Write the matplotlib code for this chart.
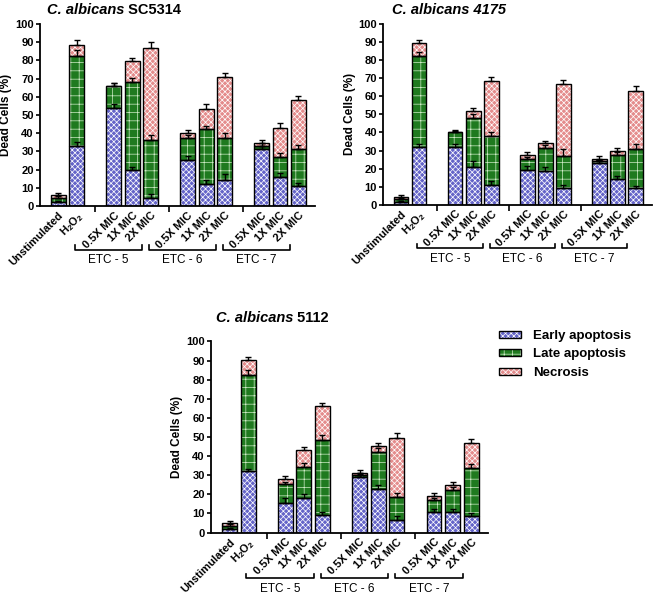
import matplotlib
matplotlib.use("Agg")
import matplotlib.pyplot as plt
import matplotlib.transforms as mtransforms
from matplotlib.patches import Patch
from matplotlib.legend_handler import HandlerTuple
import numpy as np

plt.rcParams['font.family'] = ['Liberation Sans', 'DejaVu Sans']
plt.rcParams['font.weight'] = 'bold'
plt.rcParams['mathtext.fontset'] = 'custom'
plt.rcParams['mathtext.rm'] = 'Liberation Sans:bold'
plt.rcParams['mathtext.default'] = 'rm'
plt.rcParams['hatch.linewidth'] = 0.5

labels = ['Unstimulated', r'H$_2$O$_2$',
          '0.5X MIC', '1X MIC', '2X MIC',
          '0.5X MIC', '1X MIC', '2X MIC',
          '0.5X MIC', '1X MIC', '2X MIC']
groups = ['ETC - 5', 'ETC - 6', 'ETC - 7']
positions = [0, 1, 3, 4, 5, 7, 8, 9, 11, 12, 13]

# C. albicans SC5314
sc_early = [2, 33, 54, 20, 4.5, 25.5, 12, 14.5, 31.5, 16, 11]
sc_late = [2.5, 49.5, 12, 48, 32, 12, 30, 23, 1.5, 11, 20.5]
sc_necro = [1.5, 6, 0, 11.5, 50.5, 2.5, 11, 33.5, 1.5, 16, 26.5]
sc_early_err = [0.5, 2, 2, 1.5, 2, 2, 2.5, 3, 1.5, 2, 1.5]
sc_late_err = [1, 3, 1.5, 2.5, 2.5, 1.5, 2, 2.5, 1.5, 2, 2]
sc_necro_err = [1, 2.5, 1.5, 2, 3, 1.5, 3, 2, 1.5, 2.5, 2.5]

# C. albicans 4175
ca_early = [1.5, 32, 32, 21, 11, 19, 18.5, 9, 23, 14, 9]
ca_late = [1.5, 50, 8, 27, 27, 6.5, 13, 18, 1, 13.5, 22]
ca_necro = [1.5, 7.5, 0.5, 4, 30.5, 2, 2.5, 39.5, 1.5, 2.5, 32]
ca_early_err = [0.5, 1.5, 1.5, 3, 2, 2.5, 2.5, 2, 1.5, 2, 1.5]
ca_late_err = [0.5, 2.5, 1, 2, 2, 1, 1.5, 4, 1, 1.5, 2.5]
ca_necro_err = [1, 1.5, 1, 1.5, 2, 1.5, 1.5, 2.5, 1.5, 1.5, 2.5]

# C. albicans 5112
cb_early = [2, 32, 15.5, 18, 9, 29, 23, 6.5, 11, 10.5, 8.5]
cb_late = [1.5, 50.5, 10, 16.5, 39.5, 1, 19, 12, 6, 12, 25.5]
cb_necro = [1.5, 8, 2.5, 8.5, 17.5, 1, 3.5, 31, 2, 2.5, 13]
cb_early_err = [0.5, 1, 2.5, 2, 1.5, 1.5, 2, 2, 1.5, 2, 1.5]
cb_late_err = [1, 2.5, 1, 2, 2.5, 1, 2, 2, 1, 1.5, 2]
cb_necro_err = [1, 1.5, 1.5, 2, 2, 1.5, 1.5, 2.5, 1.5, 1.5, 2]

# (facecolor, hatch colour, hatch)
styles = [('#6464c8', 'white', 'xxxxxx'),
          ('#1f7a1f', '#d0ecc8', '++'),
          ('#e48c8c', 'white', 'xxxxxx')]
legend_names = ['Early apoptosis', 'Late apoptosis', 'Necrosis']


def draw_panel(ax, segs, errs, fs=7.5):
    x = np.array(positions)
    bottom = np.zeros(len(x))
    for seg, err, (fc, hc, h) in zip(segs, errs, styles):
        seg = np.array(seg)
        ax.bar(x, seg, 0.8, bottom=bottom, color=fc, edgecolor=hc,
               hatch=h, linewidth=0, zorder=2)
        ax.bar(x, seg, 0.8, bottom=bottom, fill=False, edgecolor='black',
               linewidth=1, zorder=3)
        top = bottom + seg
        ax.errorbar(x, top, yerr=[np.zeros(len(x)), err], fmt='none',
                    ecolor='black', elinewidth=1, capsize=2, capthick=1,
                    zorder=4)
        bottom = top

    ax.set_xlim(-1.0, 13.9)
    ax.set_ylim(0, 100)
    ax.set_yticks(range(0, 101, 10))
    ax.set_xticks(positions)
    ax.set_xticklabels(labels, rotation=45, ha='right',
                       rotation_mode='anchor', fontsize=fs + 0.5,
                       fontweight='bold')
    ax.set_xticks([2, 6, 10], minor=True)
    ax.tick_params(axis='x', which='major', length=0, pad=3)
    ax.tick_params(axis='x', which='minor', length=4, width=1.2)
    ax.tick_params(axis='y', labelsize=fs + 0.5, width=1.2, length=3, pad=1.5)
    for lab in ax.get_yticklabels():
        lab.set_fontweight('bold')
    ax.set_ylabel('Dead Cells (%)', fontsize=fs + 1, fontweight='bold',
                  labelpad=2)
    for s in ['top', 'right']:
        ax.spines[s].set_visible(False)
    for s in ['left', 'bottom']:
        ax.spines[s].set_linewidth(1.3)

    # group brackets under the tick labels
    trans = mtransforms.blended_transform_factory(ax.transData, ax.transAxes)
    for i, g in enumerate(groups):
        x0 = positions[2 + 3 * i] - 2.1
        x1 = positions[4 + 3 * i] - 0.45
        ax.plot([x0, x0, x1, x1], [-0.215, -0.24, -0.24, -0.215],
                color='black', lw=1.2, transform=trans, clip_on=False)
        ax.text((x0 + x1) / 2, -0.265, g, transform=trans, ha='center',
                va='top', fontsize=fs + 1, fontweight='normal')


fig = plt.figure(figsize=(6.55, 5.97), dpi=100)

ax1 = fig.add_axes([0.061, 0.655, 0.42, 0.305])
draw_panel(ax1, [sc_early, sc_late, sc_necro],
           [sc_early_err, sc_late_err, sc_necro_err])

ax2 = fig.add_axes([0.585, 0.657, 0.41, 0.303])
draw_panel(ax2, [ca_early, ca_late, ca_necro],
           [ca_early_err, ca_late_err, ca_necro_err])

ax3 = fig.add_axes([0.322, 0.108, 0.423, 0.32])
draw_panel(ax3, [cb_early, cb_late, cb_necro],
           [cb_early_err, cb_late_err, cb_necro_err])

# titles: species name in italics, strain in upright bold
tsize = 10.5
t1 = fig.text(47 / 655, 1 - 14 / 597, 'C. albicans', style='italic',
              fontweight='bold', fontsize=tsize)
plt.annotate(' SC5314', xy=(1, 0), xycoords=t1, fontsize=tsize,
             fontweight='bold', va='bottom', annotation_clip=False)
fig.text(392 / 655, 1 - 14 / 597, 'C. albicans 4175', style='italic',
         fontweight='bold', fontsize=tsize)
t3 = fig.text(216 / 655, 1 - 322 / 597, 'C. albicans', style='italic',
              fontweight='bold', fontsize=tsize)
plt.annotate(' 5112', xy=(1, 0), xycoords=t3, fontsize=tsize,
             fontweight='bold', va='bottom', annotation_clip=False)

handles = []
for fc, hc, h in styles:
    handles.append((Patch(facecolor=fc, edgecolor=hc, hatch=h, linewidth=0),
                    Patch(fill=False, edgecolor='black', linewidth=1)))
fig.legend(handles, legend_names, handler_map={tuple: HandlerTuple(ndivide=1)},
           loc='upper left', bbox_to_anchor=(487 / 655, 1 - 318 / 597),
           frameon=False, handlelength=1.7, handleheight=0.45,
           labelspacing=0.5, handletextpad=0.9,
           prop={'weight': 'bold', 'size': 9.5})

fig.savefig('out.png', dpi=100)
